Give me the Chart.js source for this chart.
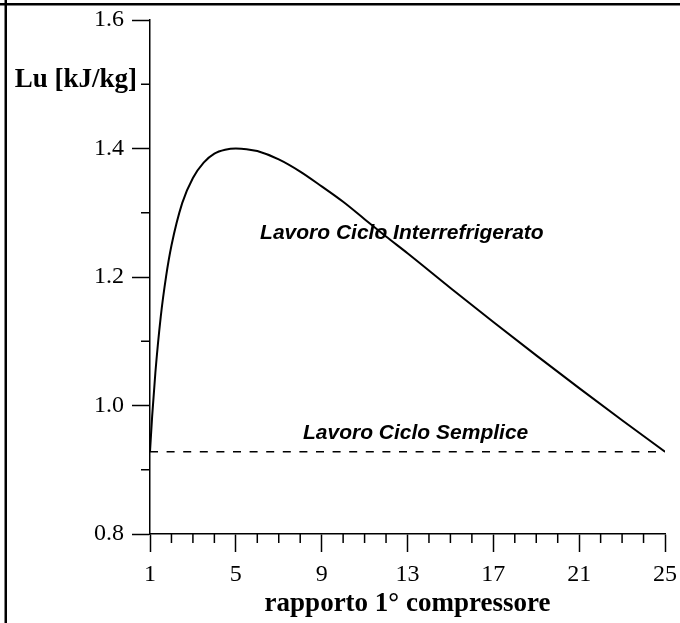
<!DOCTYPE html>
<html>
<head>
<meta charset="utf-8">
<title>Lavoro utile - ciclo interrefrigerato</title>
<script src="https://cdn.jsdelivr.net/npm/chart.js@4"></script>
<style>
  html, body { margin: 0; padding: 0; background: #fff; }
  #wrap { position: relative; width: 680px; height: 623px; }
</style>
</head>
<body>
<div id="wrap"><canvas id="grafico" width="680" height="623"></canvas></div>
<script>
// rapporto di compressione del 1° compressore
const rapporto = [1, 1.1, 1.25, 1.5, 1.75, 2, 2.5, 3, 3.5, 4, 4.5, 5, 5.5, 6, 7, 8, 9, 10, 11, 12, 13, 15, 17, 19, 21, 23, 25];
// lavoro utile ciclo interrefrigerato [kJ/kg]
const lavoroInterref = [0.928, 0.983, 1.051, 1.138, 1.201, 1.249, 1.315, 1.354, 1.378, 1.392, 1.398, 1.400, 1.399, 1.396, 1.383, 1.364, 1.341, 1.317, 1.290, 1.263, 1.237, 1.183, 1.130, 1.078, 1.027, 0.977, 0.928];
// lavoro utile ciclo semplice (costante)
const rapportoSemplice = [1, 25];
const lavoroSemplice = [0.928, 0.928];

const xTickMaggiori = [1, 5, 9, 13, 17, 21, 25];
const yTickMaggiori = ['0.8', '1.0', '1.2', '1.4', '1.6'];

const nero = '#000';
const serif = "'Liberation Serif', 'Times New Roman', serif";
const sans = "'Liberation Sans', Arial, sans-serif";

function punti(xs, ys) {
  return xs.map((x, i) => ({ x: x, y: ys[i] }));
}

function isMaggioreX(v) { return xTickMaggiori.includes(v); }
function isMaggioreY(v) { return yTickMaggiori.includes(v.toFixed(1)) && Math.abs(v * 5 - Math.round(v * 5)) < 1e-6; }

// tacche secondarie, cornice ed etichette di testo
const decorazioni = {
  id: 'decorazioni',
  afterDraw(chart) {
    const ctx = chart.ctx;
    const xs = chart.scales.x, ys = chart.scales.y;
    const area = chart.chartArea;
    ctx.save();
    ctx.strokeStyle = nero;
    ctx.lineWidth = 1.5;
    ctx.beginPath();
    for (let v = 1; v <= 25; v++) {
      if (isMaggioreX(v)) continue;
      const px = xs.getPixelForValue(v);
      ctx.moveTo(px, area.bottom);
      ctx.lineTo(px, area.bottom + 9);
    }
    for (let k = 1; k < 8; k += 2) {
      const py = ys.getPixelForValue(0.8 + k * 0.1);
      ctx.moveTo(area.left - 9, py);
      ctx.lineTo(area.left, py);
    }
    ctx.stroke();

    // cornice
    ctx.fillStyle = nero;
    ctx.fillRect(0, 3, chart.width, 2.5);
    ctx.fillRect(4.5, 0, 2.5, chart.height);

    // titoli degli assi
    ctx.font = 'bold 27px ' + serif;
    ctx.textBaseline = 'alphabetic';
    ctx.textAlign = 'right';
    ctx.fillText('Lu [kJ/kg]', 137, ys.getPixelForValue(1.5) + 3);
    ctx.textAlign = 'center';
    ctx.fillText('rapporto 1° compressore', (area.left + area.right) / 2, 611);

    // etichette delle curve
    ctx.font = 'italic bold 21px ' + sans;
    ctx.textAlign = 'left';
    ctx.fillText('Lavoro Ciclo Interrefrigerato', xs.getPixelForValue(6.13), ys.getPixelForValue(1.259));
    ctx.fillText('Lavoro Ciclo Semplice', xs.getPixelForValue(8.13), ys.getPixelForValue(0.948));
    ctx.restore();
  }
};

new Chart(document.getElementById('grafico'), {
  type: 'line',
  data: {
    datasets: [
      {
        label: 'Lavoro Ciclo Interrefrigerato',
        data: punti(rapporto, lavoroInterref),
        borderColor: nero,
        borderWidth: 2,
        pointRadius: 0,
        cubicInterpolationMode: 'monotone',
        fill: false
      },
      {
        label: 'Lavoro Ciclo Semplice',
        data: punti(rapportoSemplice, lavoroSemplice),
        borderColor: nero,
        borderWidth: 1.6,
        borderDash: [8, 8.6],
        pointRadius: 0,
        fill: false
      }
    ]
  },
  options: {
    responsive: false,
    animation: false,
    layout: { padding: { top: 20, right: 15, left: 0, bottom: 0 } },
    plugins: {
      legend: { display: false },
      tooltip: { enabled: false }
    },
    scales: {
      x: {
        type: 'linear',
        min: 1,
        max: 25,
        afterFit(scale) {
          scale.height = 89;
          scale.paddingLeft = 0;
          scale.paddingRight = 0;
        },
        border: { color: nero, width: 1.5 },
        grid: {
          drawOnChartArea: false,
          drawTicks: true,
          tickLength: 18,
          tickWidth: 1.5,
          tickColor: ctx => (ctx.tick && isMaggioreX(ctx.tick.value)) ? nero : 'rgba(0,0,0,0)'
        },
        ticks: {
          stepSize: 1,
          autoSkip: false,
          maxRotation: 0,
          padding: 8,
          color: nero,
          font: { family: serif, size: 24 },
          callback: v => isMaggioreX(v) ? String(v) : ''
        }
      },
      y: {
        type: 'linear',
        min: 0.8,
        max: 1.6,
        afterFit(scale) {
          scale.width = 150;
          scale.paddingTop = 0;
          scale.paddingBottom = 0;
        },
        border: { color: nero, width: 1.5 },
        grid: {
          drawOnChartArea: false,
          drawTicks: true,
          tickLength: 18,
          tickWidth: 1.5,
          tickColor: ctx => (ctx.tick && isMaggioreY(ctx.tick.value)) ? nero : 'rgba(0,0,0,0)'
        },
        ticks: {
          stepSize: 0.1,
          autoSkip: false,
          padding: 8,
          color: nero,
          font: { family: serif, size: 24 },
          callback: v => isMaggioreY(v) ? v.toFixed(1) : ''
        }
      }
    }
  },
  plugins: [decorazioni]
});
</script>
</body>
</html>
